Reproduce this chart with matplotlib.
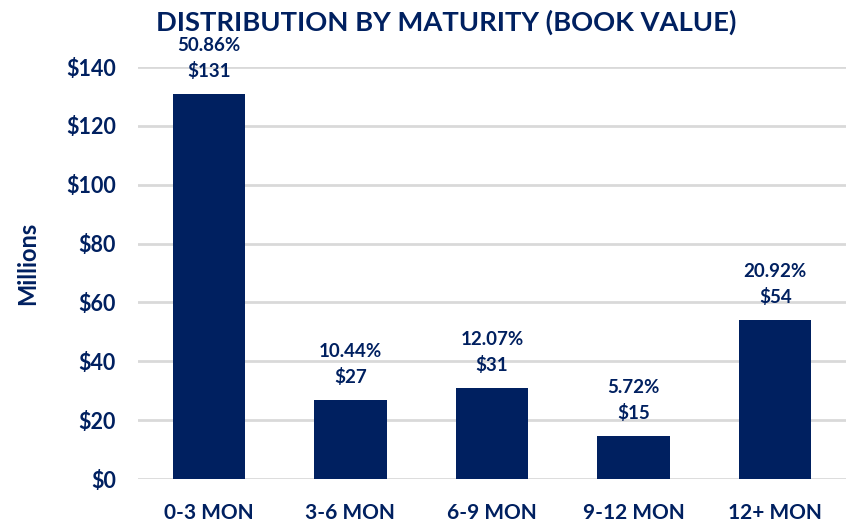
import matplotlib
matplotlib.use("Agg")
import matplotlib.pyplot as plt

categories = ["0-3 MON", "3-6 MON", "6-9 MON", "9-12 MON", "12+ MON"]
values = [130.8, 26.8, 30.9, 14.6, 54.0]
pct_labels = ["50.86%", "10.44%", "12.07%", "5.72%", "20.92%"]
dollar_labels = ["$131", "$27", "$31", "$15", "$54"]
yticks = [0, 20, 40, 60, 80, 100, 120, 140]
ytick_labels = ["$0", "$20", "$40", "$60", "$80", "$100", "$120", "$140"]

navy = "#002060"
plt.rcParams['font.family'] = ['Lato', 'DejaVu Sans']

fig = plt.figure(figsize=(8.46, 5.21), dpi=100)
ax = fig.add_axes([138/846, 42/521, 1 - 138/846, 412/521])

x = list(range(len(categories)))
ax.bar(x, values, width=0.51, color=navy, zorder=3)
ax.set_xlim(-0.5, 4.5)
ax.set_ylim(0, 140)
ax.set_yticks(yticks)
ax.set_yticklabels(ytick_labels)
ax.set_xticks(x)
ax.set_xticklabels(categories)
ax.grid(axis='y', color='#D9D9D9', linewidth=2, zorder=0)
ax.set_axisbelow(True)
for s in ax.spines.values():
    s.set_visible(False)
ax.tick_params(axis='both', length=0, labelcolor=navy)
ax.tick_params(axis='y', pad=16, labelsize=15.5)
ax.tick_params(axis='x', pad=17, labelsize=15)
for lab in ax.get_xticklabels() + ax.get_yticklabels():
    lab.set_fontweight('bold')

for xi, v, p, d in zip(x, values, pct_labels, dollar_labels):
    ax.annotate(d, (xi, v), xytext=(0, 16.5), textcoords='offset points',
                ha='center', va='center', fontsize=13.5, fontweight='bold',
                color=navy, annotation_clip=False)
    ax.annotate(p, (xi, v), xytext=(0, 35), textcoords='offset points',
                ha='center', va='center', fontsize=13.5, fontweight='bold',
                color=navy, annotation_clip=False)

fig.text(28/846, 1 - 263/521, "Millions", rotation=90, ha='center', va='center',
         fontsize=17, fontweight='bold', color=navy)
fig.text(446/846, 1 - 22/521, "DISTRIBUTION BY MATURITY (BOOK VALUE)", ha='center',
         va='center', fontsize=19.7, fontweight='bold', color=navy)

fig.savefig("out.png", dpi=100)
